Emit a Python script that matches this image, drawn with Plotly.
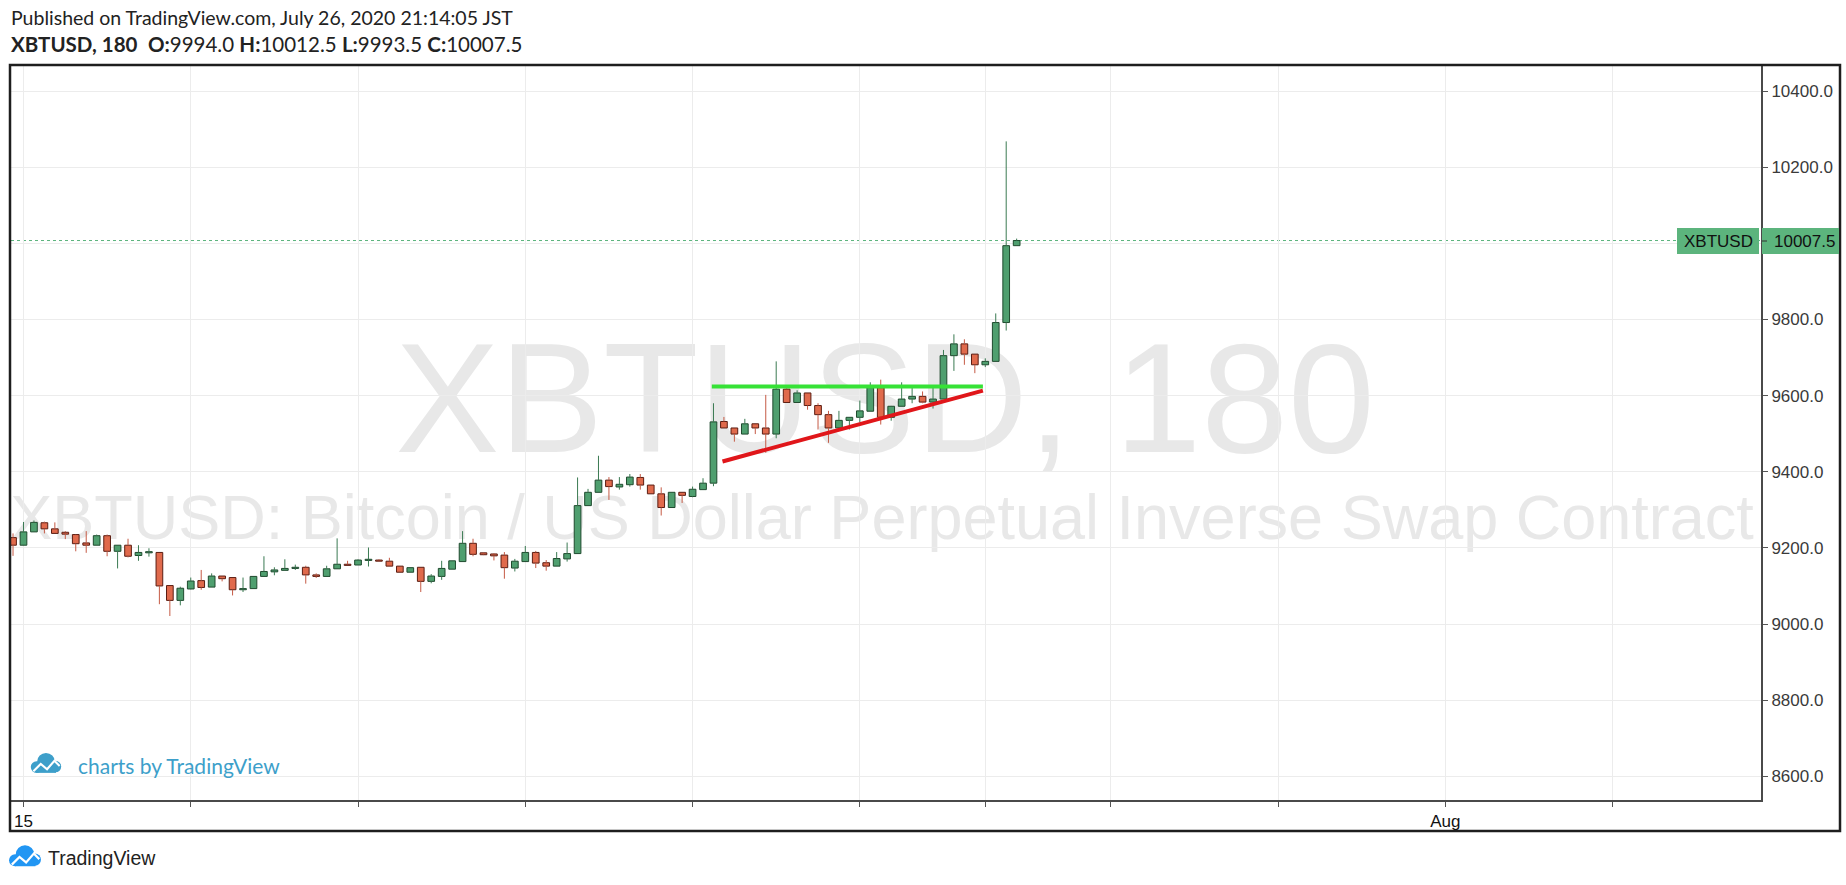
import pandas as pd
import plotly.graph_objects as go

# ---------------- data ----------------
SYMBOL = "XBTUSD"
INTERVAL = "180"
DESCRIPTION = "XBTUSD: Bitcoin / US Dollar Perpetual Inverse Swap Contract"
PUBLISHED = "Published on TradingView.com, July 26, 2020 21:14:05 JST"

FIRST_BAR = "2020-07-14 21:00"   # JST, 3-hour bars
BAR_FREQ = "3h"

OPEN = [9227, 9207, 9242, 9266, 9250, 9241, 9235, 9213, 9207, 9232,
        9191, 9207, 9180, 9187, 9188, 9101, 9062, 9092, 9114, 9097,
        9126, 9122, 9090, 9093, 9125, 9137, 9141, 9146, 9149, 9129,
        9125, 9145, 9157, 9155, 9167, 9168, 9165, 9152, 9136, 9149,
        9112, 9125, 9144, 9164, 9212, 9187, 9184, 9181, 9147, 9164,
        9188, 9161, 9152, 9171, 9185, 9311, 9346, 9378, 9360, 9366,
        9385, 9365, 9342, 9306, 9346, 9335, 9353, 9370, 9532, 9515,
        9499, 9526, 9515, 9499, 9617, 9582, 9607, 9574, 9550, 9515,
        9535, 9543, 9559, 9621, 9543, 9572, 9591, 9598, 9583, 9591,
        9705, 9736, 9709, 9681, 9690, 9792, 9994.0]
HIGH = [9238, 9268, 9272, 9269, 9267, 9244, 9236, 9244, 9235, 9235,
        9207, 9224, 9207, 9199, 9188, 9101, 9098, 9122, 9142, 9133,
        9126, 9122, 9122, 9125, 9178, 9149, 9170, 9156, 9153, 9133,
        9153, 9225, 9166, 9170, 9201, 9170, 9174, 9152, 9148, 9149,
        9131, 9166, 9166, 9244, 9224, 9188, 9186, 9189, 9171, 9205,
        9192, 9168, 9189, 9214, 9385, 9355, 9442, 9386, 9386, 9394,
        9394, 9365, 9359, 9346, 9346, 9361, 9383, 9580, 9544, 9515,
        9539, 9526, 9602, 9690, 9624, 9614, 9607, 9580, 9560, 9560,
        9543, 9587, 9635, 9642, 9573, 9635, 9620, 9611, 9620, 9720,
        9761, 9748, 9709, 9698, 9816, 10268, 10012.5]
LOW = [9179, 9206, 9242, 9238, 9238, 9223, 9191, 9187, 9207, 9178,
       9146, 9175, 9166, 9177, 9052, 9021, 9049, 9091, 9090, 9097,
       9112, 9075, 9084, 9093, 9125, 9128, 9140, 9142, 9106, 9121,
       9125, 9145, 9154, 9155, 9151, 9164, 9152, 9136, 9136, 9084,
       9107, 9116, 9144, 9164, 9178, 9181, 9167, 9119, 9138, 9164,
       9147, 9140, 9152, 9164, 9185, 9311, 9346, 9326, 9353, 9361,
       9353, 9342, 9285, 9306, 9318, 9333, 9353, 9362, 9515, 9479,
       9499, 9499, 9450, 9488, 9582, 9582, 9563, 9511, 9476, 9511,
       9511, 9530, 9559, 9524, 9534, 9572, 9580, 9580, 9566, 9591,
       9665, 9681, 9659, 9675, 9690, 9771, 9993.5]
CLOSE = [9207, 9242, 9267, 9250, 9238, 9236, 9211, 9207, 9232, 9191,
         9207, 9178, 9188, 9190, 9100, 9062, 9094, 9113, 9096, 9126,
         9119, 9090, 9093, 9125, 9138, 9142, 9146, 9149, 9129, 9125,
         9145, 9157, 9154, 9168, 9170, 9165, 9152, 9136, 9148, 9112,
         9126, 9146, 9166, 9212, 9183, 9182, 9179, 9148, 9165, 9188,
         9160, 9152, 9172, 9185, 9311, 9346, 9378, 9361, 9367, 9386,
         9365, 9342, 9306, 9346, 9338, 9354, 9370, 9531, 9515, 9499,
         9526, 9515, 9499, 9617, 9582, 9607, 9574, 9550, 9515, 9535,
         9543, 9560, 9621, 9543, 9572, 9591, 9598, 9583, 9591, 9705,
         9736, 9709, 9681, 9690, 9792, 9994, 10007.5]

PRICE_TICKS = [8600, 8800, 9000, 9200, 9400, 9600, 9800, 10000, 10200, 10400]
DATE_TICKS = ["2020-07-15 00:00", "2020-07-17 00:00", "2020-07-19 00:00",
              "2020-07-21 00:00", "2020-07-23 00:00", "2020-07-25 00:00",
              "2020-07-26 12:00", "2020-07-28 00:00", "2020-07-30 00:00",
              "2020-08-01 00:00", "2020-08-03 00:00"]
DATE_TICK_TEXT = ["15", "", "", "", "", "", "", "", "", "Aug", ""]

# hand-drawn trend lines
RESIST_X = ["2020-07-23 05:31", "2020-07-26 11:19"]
RESIST_Y = [9624, 9624]
SUPPORT_X = ["2020-07-23 08:35", "2020-07-26 11:19"]
SUPPORT_Y = [9427, 9613]

X_RANGE = ["2020-07-14 20:25", "2020-08-04 18:36"]
Y_RANGE = [8537.6, 10466]

# ---------------- styling ----------------
W, H = 1846, 885
PL, PR, PT, PB = 11, 1761, 66, 800   # plot area in pixels


def px_x(p):
    return (p - PL) / (PR - PL)


def px_y(p):
    return (PB - p) / (PB - PT)


UP_FILL, DN_FILL = "#4f9f6f", "#e06a4c"
UP_EDGE, DN_EDGE = "#1f4a2e", "#5b1d12"
UP_WICK, DN_WICK = "#3a7a52", "#c55a45"
TAG_GREEN = "#5cb47d"
SANS = "Liberation Sans, Arial, sans-serif"

dates = pd.date_range(FIRST_BAR, periods=len(OPEN), freq=BAR_FREQ)
is_up = [c >= o for o, c in zip(OPEN, CLOSE)]
body_base = [min(o, c) for o, c in zip(OPEN, CLOSE)]
body_h = [abs(c - o) for o, c in zip(OPEN, CLOSE)]
bar_ms = 0.64 * 3 * 3600 * 1000

fig = go.Figure()

fig.add_trace(go.Bar(
    x=dates, y=body_h, base=body_base, width=bar_ms,
    marker=dict(color=[UP_FILL if u else DN_FILL for u in is_up],
                line=dict(color=[UP_EDGE if u else DN_EDGE for u in is_up], width=1)),
    hoverinfo="skip", showlegend=False))

for want_up, col in ((True, UP_WICK), (False, DN_WICK)):
    wx, wy = [], []
    for d, o, h, l, c, u in zip(dates, OPEN, HIGH, LOW, CLOSE, is_up):
        if u != want_up:
            continue
        top, bot = max(o, c), min(o, c)
        wx += [d, d, None, d, d, None]
        wy += [h, top, None, bot, l, None]
    fig.add_trace(go.Scatter(x=wx, y=wy, mode="lines",
                             line=dict(color=col, width=1),
                             hoverinfo="skip", showlegend=False))

fig.add_trace(go.Scatter(x=RESIST_X, y=RESIST_Y, mode="lines",
                         line=dict(color="#36e236", width=4),
                         hoverinfo="skip", showlegend=False))
fig.add_trace(go.Scatter(x=SUPPORT_X, y=SUPPORT_Y, mode="lines",
                         line=dict(color="#e0161a", width=4),
                         hoverinfo="skip", showlegend=False))

shapes = []
# watermarks (below traces)
shapes.append(dict(type="rect", xref="paper", yref="paper", layer="below",
                   x0=px_x(385), x1=px_x(1385), y0=px_y(433), y1=px_y(333),
                   line=dict(width=0), fillcolor="rgba(0,0,0,0)",
                   label=dict(text=f"{SYMBOL}, {INTERVAL}", textposition="middle center",
                              font=dict(family=SANS, size=156, color="#e8e8e8"))))
shapes.append(dict(type="rect", xref="paper", yref="paper", layer="below",
                   x0=px_x(100), x1=px_x(1664), y0=px_y(541), y1=px_y(481),
                   line=dict(width=0), fillcolor="rgba(0,0,0,0)",
                   label=dict(text=DESCRIPTION, textposition="middle center",
                              font=dict(family=SANS, size=63, color="#e8e8e8"))))

# last price dotted line
shapes.append(dict(type="line", xref="paper", yref="y", x0=0, x1=1,
                   y0=CLOSE[-1], y1=CLOSE[-1], layer="below",
                   line=dict(color=TAG_GREEN, width=1, dash="dot")))

# outer frame
shapes.append(dict(type="rect", xref="paper", yref="paper", layer="above",
                   x0=px_x(10), x1=px_x(1840), y0=px_y(831), y1=px_y(65),
                   line=dict(color="#1e1e1e", width=2.5), fillcolor="rgba(0,0,0,0)"))

# price tags
shapes.append(dict(type="rect", xref="paper", yref="paper", layer="above",
                   x0=px_x(1677), x1=px_x(1759), y0=px_y(254), y1=px_y(228),
                   line=dict(width=0), fillcolor=TAG_GREEN))
shapes.append(dict(type="rect", xref="paper", yref="paper", layer="above",
                   x0=px_x(1762), x1=px_x(1839), y0=px_y(254), y1=px_y(228),
                   line=dict(width=0), fillcolor=TAG_GREEN))
shapes.append(dict(type="line", xref="paper", yref="paper", layer="above",
                   x0=px_x(1762), x1=px_x(1767), y0=px_y(241), y1=px_y(241),
                   line=dict(color="#333333", width=1)))


def cloud(cx, cy, s, color):
    out = []
    for dx, dy, r in ((0, -3, 8.5), (-9, 2, 5.5), (9, 1.5, 5.5)):
        out.append(dict(type="circle", xref="paper", yref="paper", layer="above",
                        x0=px_x(cx + (dx - r) * s), x1=px_x(cx + (dx + r) * s),
                        y0=px_y(cy + (dy + r) * s), y1=px_y(cy + (dy - r) * s),
                        line=dict(width=0), fillcolor=color))
    out.append(dict(type="rect", xref="paper", yref="paper", layer="above",
                    x0=px_x(cx - 9 * s), x1=px_x(cx + 9.5 * s),
                    y0=px_y(cy + 7.5 * s), y1=px_y(cy + 1 * s),
                    line=dict(width=0), fillcolor=color))
    pts = [(-12, 6), (-5, -1), (1, 4), (8, -4), (13, 1)]
    path = "M " + " L ".join(f"{px_x(cx + a * s):.5f},{px_y(cy + b * s):.5f}" for a, b in pts)
    out.append(dict(type="path", xref="paper", yref="paper", layer="above", path=path,
                    line=dict(color="white", width=2 * s)))
    return out


shapes += cloud(46, 765, 1.05, "#3d9fca")
shapes += cloud(25, 858, 1.1, "#2196f3")

annotations = [
    dict(text=PUBLISHED, x=px_x(9), y=px_y(18), xanchor="left", yanchor="middle",
         font=dict(family="Lato, sans-serif", size=19.5, color="#222222")),
    dict(text=(f"<b>{SYMBOL}, {INTERVAL}</b>  <b>O:</b>{OPEN[-1]:.1f} <b>H:</b>{HIGH[-1]:.1f} "
               f"<b>L:</b>{LOW[-1]:.1f} <b>C:</b>{CLOSE[-1]:.1f}"),
         x=px_x(9), y=px_y(44), xanchor="left", yanchor="middle",
         font=dict(family="Lato, sans-serif", size=20.5, color="#222222")),
    dict(text="charts by TradingView", x=px_x(76), y=px_y(765), xanchor="left", yanchor="middle",
         font=dict(family="Lato, sans-serif", size=21, color="#3d9fca")),
    dict(text="TradingView", x=px_x(46), y=px_y(858), xanchor="left", yanchor="middle",
         font=dict(family=SANS, size=19.5, color="#222222")),
    dict(text=SYMBOL, x=px_x(1718), y=px_y(241), xanchor="center", yanchor="middle",
         font=dict(family=SANS, size=17, color="#111111")),
    dict(text=f"{CLOSE[-1]:.1f}", x=px_x(1772), y=px_y(241), xanchor="left", yanchor="middle",
         font=dict(family=SANS, size=17, color="#111111")),
]
for a in annotations:
    a.update(xref="paper", yref="paper", showarrow=False)

fig.update_layout(
    width=W, height=H,
    margin=dict(l=PL, r=W - PR, t=PT, b=H - PB, pad=0),
    paper_bgcolor="white", plot_bgcolor="white",
    showlegend=False, barmode="overlay",
    shapes=shapes, annotations=annotations,
    xaxis=dict(type="date", range=X_RANGE, tickmode="array",
               tickvals=DATE_TICKS, ticktext=DATE_TICK_TEXT,
               ticks="outside", ticklen=5, tickcolor="#555555", tickwidth=1,
               showgrid=True, gridcolor="#ececec", gridwidth=1,
               showline=True, linecolor="#4a4a4a", linewidth=2,
               tickfont=dict(family=SANS, size=17, color="#111111"),
               zeroline=False, fixedrange=True),
    yaxis=dict(side="right", range=Y_RANGE, tickmode="array",
               tickvals=PRICE_TICKS, ticktext=[f"{v:.1f}" for v in PRICE_TICKS],
               ticks="outside", ticklen=5, tickcolor="#555555", tickwidth=1,
               showgrid=True, gridcolor="#ececec", gridwidth=1,
               showline=True, linecolor="#4a4a4a", linewidth=2,
               tickfont=dict(family=SANS, size=17, color="#3a3a3a"),
               zeroline=False, fixedrange=True),
)

fig.write_html("out.html", post_script="document.body.style.margin='0';",
               config={"displayModeBar": False})
